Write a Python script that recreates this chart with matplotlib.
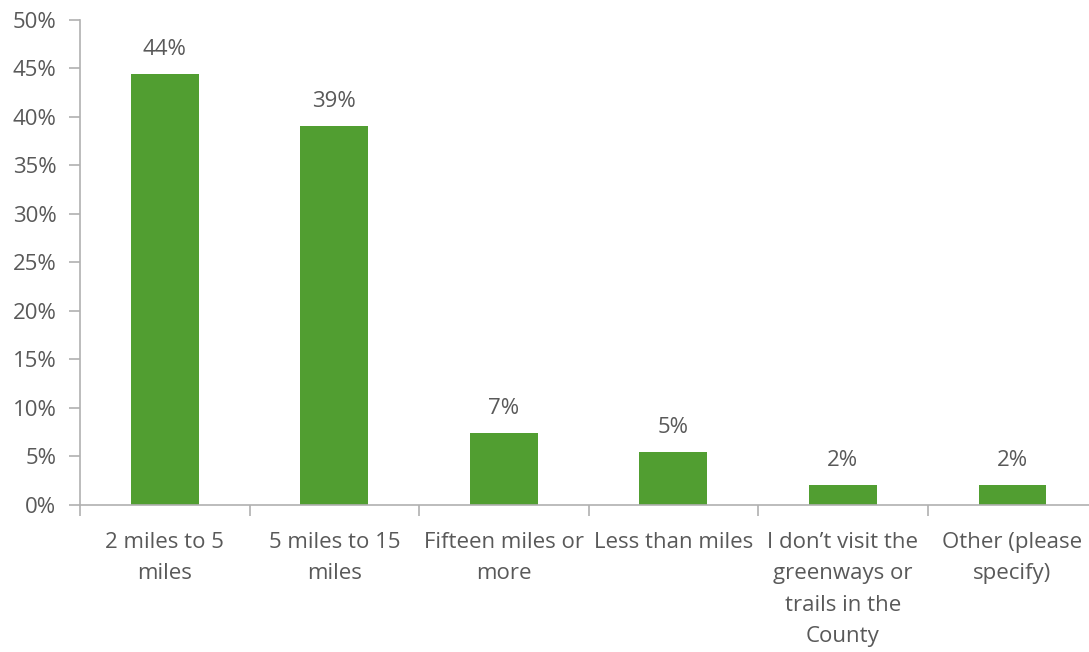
import matplotlib
matplotlib.use("Agg")
import matplotlib.pyplot as plt
from matplotlib.ticker import MultipleLocator, FuncFormatter

# data
categories = ["2 miles to 5\nmiles", "5 miles to 15\nmiles", "Fifteen miles or\nmore",
              "Less than miles", "I don\u2019t visit the\ngreenways or\ntrails in the\nCounty",
              "Other (please\nspecify)"]
values = [44.4, 39.0, 7.4, 5.4, 2.0, 2.0]
labels = ["44%", "39%", "7%", "5%", "2%", "2%"]

plt.rcParams['font.family'] = ['Open Sans', 'DejaVu Sans']
text_color = "#595959"
axis_color = "#b0b0b0"
fs = 16

fig = plt.figure(figsize=(10.89, 6.52), dpi=100)
ax = fig.add_axes([0.0735, 0.226, 0.934, 0.744])

x = range(len(categories))
ax.bar(x, values, width=0.4, color="#519E31", zorder=2)

# value labels above bars
for i, (v, t) in enumerate(zip(values, labels)):
    ax.text(i, v + 1.45, t, ha="center", va="bottom", fontsize=fs, color=text_color)

ax.set_xlim(-0.5, len(categories) - 0.5)
ax.set_ylim(0, 50)
ax.yaxis.set_major_locator(MultipleLocator(5))
ax.yaxis.set_major_formatter(FuncFormatter(lambda v, p: f"{v:.0f}%"))

# category labels between boundary ticks
ax.set_xticks([i - 0.5 for i in range(len(categories) + 1)])
ax.set_xticklabels([])
ax.tick_params(axis="x", length=8, color=axis_color, width=1.2)
ax.tick_params(axis="y", length=8, color=axis_color, width=1.2, labelsize=fs,
               labelcolor=text_color, pad=9)
for i, c in enumerate(categories):
    ax.text(i, -2.8, c, ha="center", va="top", fontsize=fs, color=text_color,
            linespacing=1.65, clip_on=False)

for s in ["top", "right"]:
    ax.spines[s].set_visible(False)
for s in ["left", "bottom"]:
    ax.spines[s].set_color(axis_color)
    ax.spines[s].set_linewidth(1.2)

fig.savefig("out.png", dpi=100)
